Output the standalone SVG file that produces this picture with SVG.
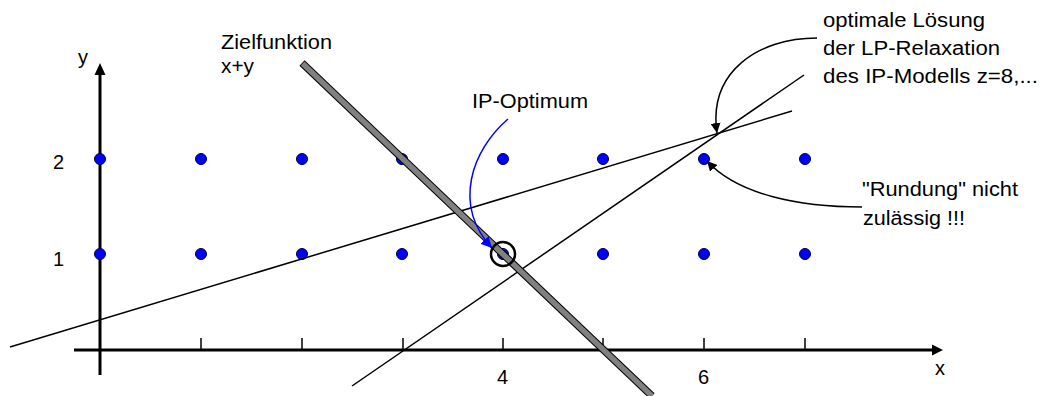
<svg xmlns="http://www.w3.org/2000/svg" width="1040" height="396" viewBox="0 0 1040 396">
<style>
text{font-family:"Liberation Sans",Arial,sans-serif;font-size:20px;fill:#000}
.dot{fill:#0000ff;stroke:#000040;stroke-width:1}
.thin{stroke:#000;stroke-width:1.5;fill:none}
.axis{stroke:#000;stroke-width:3;fill:none}
.tick{stroke:#000;stroke-width:1.5}
</style>
<defs>
<marker id="ab" viewBox="0 0 10 10" refX="10" refY="5" markerWidth="10" markerHeight="10" markerUnits="userSpaceOnUse" orient="auto"><path d="M0,0 L10,5 L0,10 z" fill="#000"/></marker>
<marker id="abl" viewBox="0 0 10 10" refX="10" refY="5" markerWidth="11" markerHeight="11" markerUnits="userSpaceOnUse" orient="auto"><path d="M0,0 L10,5 L0,10 z" fill="#0000ff"/></marker>
</defs>
<g id="axes">
<line class="axis" x1="74" y1="350" x2="933" y2="350"/>
<path d="M943,350 L932,344.5 L932,355.5 z" fill="#000"/>
<line class="axis" x1="100" y1="375" x2="100" y2="74"/>
<path d="M100,63 L94.5,75 L105.5,75 z" fill="#000"/>
<line class="tick" x1="201" y1="338" x2="201" y2="350"/>
<line class="tick" x1="302" y1="338" x2="302" y2="350"/>
<line class="tick" x1="403" y1="338" x2="403" y2="350"/>
<line class="tick" x1="503" y1="338" x2="503" y2="350"/>
<line class="tick" x1="603" y1="338" x2="603" y2="350"/>
<line class="tick" x1="704" y1="338" x2="704" y2="350"/>
<line class="tick" x1="805" y1="338" x2="805" y2="350"/>
<text x="78" y="64">y</text>
<text x="935" y="375">x</text>
<text x="53" y="169">2</text>
<text x="53" y="266">1</text>
<text x="497" y="384">4</text>
<text x="698" y="384">6</text>
</g>
<g id="points">
<circle class="dot" cx="100" cy="159" r="5.5"/>
<circle class="dot" cx="201" cy="159" r="5.5"/>
<circle class="dot" cx="302" cy="159" r="5.5"/>
<circle class="dot" cx="402" cy="159" r="5.5"/>
<circle class="dot" cx="503" cy="159" r="5.5"/>
<circle class="dot" cx="603" cy="159" r="5.5"/>
<circle class="dot" cx="704" cy="159" r="5.5"/>
<circle class="dot" cx="805" cy="159" r="5.5"/>
<circle class="dot" cx="100" cy="254" r="5.5"/>
<circle class="dot" cx="201" cy="254" r="5.5"/>
<circle class="dot" cx="302" cy="254" r="5.5"/>
<circle class="dot" cx="402" cy="254" r="5.5"/>
<circle class="dot" cx="503" cy="254" r="5.5"/>
<circle class="dot" cx="603" cy="254" r="5.5"/>
<circle class="dot" cx="704" cy="254" r="5.5"/>
<circle class="dot" cx="805" cy="254" r="5.5"/>
</g>
<g id="constraints">
<line class="thin" x1="10" y1="347" x2="792" y2="111"/>
<line class="thin" x1="352" y1="386" x2="804" y2="75"/>
</g>
<g id="zielfunktion-line">
<line x1="302" y1="63" x2="652" y2="396" stroke="#000" stroke-width="7.5"/>
<line x1="302.6" y1="63.6" x2="652" y2="396" stroke="#808080" stroke-width="5.5"/>
</g>
<g id="ip-optimum">
<circle cx="503" cy="254" r="12" fill="none" stroke="#000" stroke-width="2.5"/>
</g>
<g id="connectors">
<path d="M508,119 C472,150 452,205 492,248" fill="none" stroke="#0000ff" stroke-width="1.5" marker-end="url(#abl)"/>
<path d="M817,38 C758,38 708,72 717,133" class="thin" marker-end="url(#ab)"/>
<path d="M862,207 C800,207 738,195 707,161" class="thin" marker-end="url(#ab)"/>
</g>
<g id="labels">
<text x="221" y="49" textLength="111" lengthAdjust="spacingAndGlyphs">Zielfunktion</text>
<text x="221" y="73" textLength="33" lengthAdjust="spacingAndGlyphs">x+y</text>
<text x="472" y="108" textLength="116" lengthAdjust="spacingAndGlyphs">IP-Optimum</text>
<text x="823" y="27" textLength="162" lengthAdjust="spacingAndGlyphs">optimale Lösung</text>
<text x="823" y="55" textLength="177" lengthAdjust="spacingAndGlyphs">der LP-Relaxation</text>
<text x="823" y="83" textLength="215" lengthAdjust="spacingAndGlyphs">des IP-Modells z=8,...</text>
<text x="862" y="196" textLength="156" lengthAdjust="spacingAndGlyphs">"Rundung" nicht</text>
<text x="863" y="225" textLength="102" lengthAdjust="spacingAndGlyphs">zulässig !!!</text>
</g>
</svg>
